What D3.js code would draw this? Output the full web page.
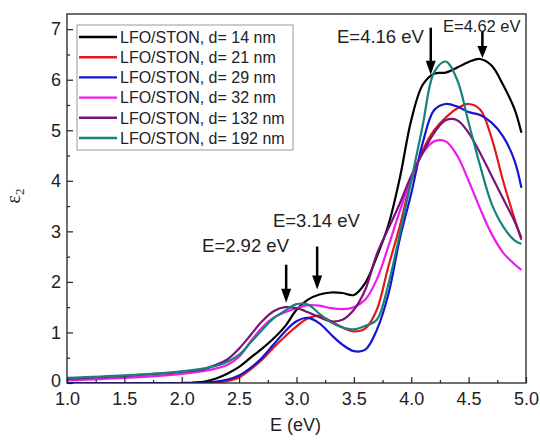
<!DOCTYPE html>
<html>
<head>
<meta charset="utf-8">
<script src="https://cdn.jsdelivr.net/npm/d3@7"></script>
<style>
  body { margin: 0; background: #fff; }
  svg { display: block; }
</style>
</head>
<body>
<div class="center"></div>
<script>
// canvas size and margins (plot frame 67..526 x 14..383)
const margin = {top: 14, right: 14, bottom: 58, left: 67};
const width = 540 - margin.left - margin.right;
const height = 441 - margin.top - margin.bottom;

// photon energy grid (eV), shared by all series
const energy = [1.0, 1.5, 2.0, 2.2, 2.3, 2.4, 2.5, 2.6, 2.7, 2.8, 2.9, 3.0, 3.1, 3.2, 3.3, 3.4,
                3.5, 3.6, 3.7, 3.8, 3.9, 4.0, 4.1, 4.2, 4.3, 4.4, 4.5, 4.6, 4.7, 4.8, 4.9, 4.96];

// epsilon_2, one array per film
const eps14  = [0.0, 0.0, 0.0, 0.03, 0.09, 0.19, 0.32, 0.5, 0.68, 0.88, 1.12, 1.45, 1.65, 1.75, 1.79, 1.78,
                1.74, 1.98, 2.5, 3.12, 4.05, 5.2, 5.9, 6.12, 6.14, 6.24, 6.35, 6.41, 6.28, 5.9, 5.42, 4.95];
const eps21  = [0.0, 0.0, 0.0, 0.0, 0.01, 0.04, 0.11, 0.27, 0.46, 0.7, 0.92, 1.12, 1.28, 1.33, 1.22, 1.1,
                1.02, 1.08, 1.45, 2.3, 3.1, 4.0, 4.6, 5.0, 5.25, 5.43, 5.52, 5.41, 4.85, 4.0, 3.25, 2.83];
const eps29  = [0.0, 0.0, 0.0, 0.01, 0.03, 0.07, 0.15, 0.3, 0.5, 0.76, 1.02, 1.22, 1.29, 1.18, 0.96, 0.76,
                0.63, 0.66, 1.05, 1.75, 2.85, 3.75, 4.75, 5.4, 5.52, 5.47, 5.36, 5.3, 5.15, 4.88, 4.4, 3.86];
const eps32  = [0.05, 0.1, 0.18, 0.24, 0.29, 0.36, 0.52, 0.82, 1.1, 1.29, 1.4, 1.48, 1.54, 1.53, 1.48, 1.46,
                1.5, 1.65, 2.05, 2.7, 3.4, 4.05, 4.55, 4.78, 4.78, 4.5, 4.0, 3.45, 2.95, 2.58, 2.35, 2.24];
const eps132 = [0.08, 0.14, 0.22, 0.28, 0.36, 0.47, 0.68, 0.95, 1.22, 1.42, 1.5, 1.48, 1.4, 1.3, 1.22, 1.25,
                1.45, 1.85, 2.55, 3.05, 3.55, 4.1, 4.55, 4.95, 5.2, 5.2, 4.95, 4.55, 4.1, 3.65, 3.2, 2.87];
const eps192 = [0.1, 0.15, 0.23, 0.29, 0.34, 0.42, 0.56, 0.8, 1.05, 1.28, 1.43, 1.56, 1.55, 1.37, 1.2, 1.1,
                1.06, 1.13, 1.25, 1.95, 2.95, 4.0, 5.1, 6.15, 6.36, 6.0, 5.15, 4.3, 3.55, 3.1, 2.82, 2.75];

const seriesNames = ["LFO/STON, d= 14 nm", "LFO/STON, d= 21 nm", "LFO/STON, d= 29 nm",
                     "LFO/STON, d= 32 nm", "LFO/STON, d= 132 nm", "LFO/STON, d= 192 nm"];
const seriesValues = [eps14, eps21, eps29, eps32, eps132, eps192];
const seriesColors = ["#000000", "#e3191c", "#1414d2", "#ee1aee", "#7a137a", "#16827c"];

const xTicks = [1.0, 1.5, 2.0, 2.5, 3.0, 3.5, 4.0, 4.5, 5.0];
const yTicks = [0, 1, 2, 3, 4, 5, 6, 7];

// marked peaks: label, arrow energy
const peakLabels = ["E=2.92 eV", "E=3.14 eV", "E=4.16 eV", "E=4.62 eV"];
const peakArrowE = [2.91, 3.18, 4.17, 4.62];

const xScale = d3.scaleLinear().domain([1, 5]).range([0, width]);
const yScale = d3.scaleLinear().domain([0, 7.3]).range([height, 0]);

const svg = d3.select(".center").append("svg")
    .attr("width", width + margin.left + margin.right)
    .attr("height", height + margin.top + margin.bottom)
  .append("g")
    .attr("transform", `translate(${margin.left},${margin.top})`);

svg.append("defs").append("clipPath").attr("id", "clip")
  .append("rect").attr("width", width).attr("height", height);

// curves
const line = d3.line()
    .x((d, i) => xScale(energy[i]))
    .y(d => yScale(d))
    .curve(d3.curveCatmullRom.alpha(0.5));

svg.append("g").attr("clip-path", "url(#clip)")
  .selectAll("path")
  .data(seriesValues)
  .enter().append("path")
    .attr("d", d => line(d))
    .attr("fill", "none")
    .attr("stroke", (d, i) => seriesColors[i])
    .attr("stroke-width", 2.2);

// axes, ticks pointing inward
const font = "'Liberation Sans', Arial, sans-serif";

const xAxis = d3.axisBottom(xScale).tickValues(xTicks).tickFormat(d3.format(".1f"))
    .tickSizeInner(-6).tickSizeOuter(0).tickPadding(9);
const gx = svg.append("g").attr("transform", `translate(0,${height})`).call(xAxis);
gx.select(".domain").remove();
gx.selectAll("text").style("font-family", font).style("font-size", "18px").attr("fill", "#222");

const xMinor = d3.axisBottom(xScale).tickValues(d3.range(1.25, 5, 0.5)).tickFormat("")
    .tickSizeInner(-3).tickSizeOuter(0);
svg.append("g").attr("transform", `translate(0,${height})`).call(xMinor).select(".domain").remove();

const yAxis = d3.axisLeft(yScale).tickValues(yTicks).tickFormat(d3.format("d"))
    .tickSizeInner(-6).tickSizeOuter(0).tickPadding(6);
const gy = svg.append("g").call(yAxis);
gy.select(".domain").remove();
gy.selectAll("text").style("font-family", font).style("font-size", "18px").attr("fill", "#222");
// the "0" sits a touch higher so it clears the "1.0" below it
gy.selectAll("text").filter(d => d === 0).attr("dy", "0.2em");

const yMinor = d3.axisLeft(yScale).tickValues(d3.range(0.5, 7.3, 1)).tickFormat("")
    .tickSizeInner(-3).tickSizeOuter(0);
svg.append("g").call(yMinor).select(".domain").remove();

svg.selectAll(".tick line").attr("stroke", "#222").attr("stroke-width", 1.2);

// plot frame
svg.append("rect")
   .attr("width", width).attr("height", height)
   .attr("fill", "none").attr("stroke", "#222").attr("stroke-width", 1.3);

// axis titles
svg.append("text")
   .attr("x", width / 2 - 1).attr("y", height + 48)
   .style("text-anchor", "middle")
   .style("font-family", font).style("font-size", "18px").attr("fill", "#222")
   .text("E (eV)");

const yt = svg.append("text")
   .attr("transform", `translate(${-47},${yScale(3.7)}) rotate(-90)`)
   .style("text-anchor", "middle")
   .style("font-family", "'Liberation Serif', 'DejaVu Serif', serif")
   .style("font-size", "20px").attr("fill", "#222");
yt.append("tspan").text("ε");
yt.append("tspan").attr("font-size", "13px").attr("dy", "4").text("2");

// peak annotations
const labelPos = [[2.177, 2.6, 18.5], [2.795, 3.09, 18.5], [3.353, 6.73, 18.5], [4.277, 6.95, 16.5]];
const arrowY = [[2.34, 1.59], [2.70, 1.85], [7.03, 6.10], [6.95, 6.43]];

svg.selectAll(".peaklabel")
   .data(peakLabels)
   .enter().append("text")
   .attr("x", (d, i) => xScale(labelPos[i][0]))
   .attr("y", (d, i) => yScale(labelPos[i][1]))
   .style("font-family", font)
   .style("font-size", (d, i) => labelPos[i][2] + "px")
   .attr("fill", "#222")
   .text(d => d);

peakArrowE.forEach(function(e, i) {
    const x = xScale(e);
    const y0 = yScale(arrowY[i][0]);
    const y1 = yScale(arrowY[i][1]);
    const head = i === 3 ? 12 : 14;
    svg.append("line")
       .attr("x1", x).attr("x2", x)
       .attr("y1", y0).attr("y2", y1 - head + 1)
       .attr("stroke", "#000").attr("stroke-width", 2.5);
    svg.append("path")
       .attr("d", `M${x - 5},${y1 - head} L${x + 5},${y1 - head} L${x},${y1} Z`)
       .attr("fill", "#000");
});

// legend
const legend = svg.append("g").attr("transform", "translate(10,11)");
legend.append("rect")
   .attr("width", 216).attr("height", 125)
   .attr("fill", "#fff").attr("stroke", "#999").attr("stroke-width", 1);

legend.selectAll("line")
   .data(seriesNames)
   .enter().append("line")
   .attr("x1", 2).attr("x2", 40)
   .attr("y1", (d, i) => 12 + i * 20.2).attr("y2", (d, i) => 12 + i * 20.2)
   .attr("stroke", (d, i) => seriesColors[i])
   .attr("stroke-width", 2.4);

legend.selectAll("text")
   .data(seriesNames)
   .enter().append("text")
   .attr("x", 43)
   .attr("y", (d, i) => 12 + i * 20.2)
   .attr("dy", "0.36em")
   .style("font-family", font).style("font-size", "16px").attr("fill", "#222")
   .text(d => d);
</script>
</body>
</html>
